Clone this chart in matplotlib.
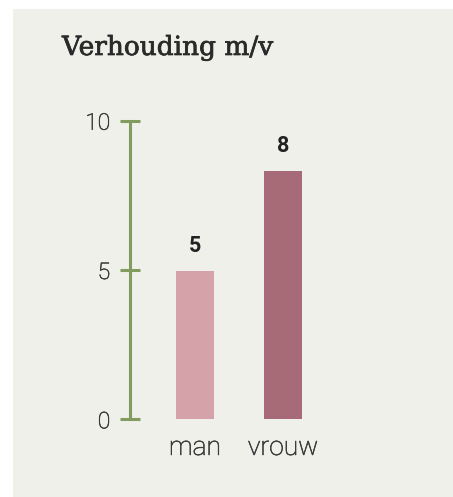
import matplotlib
matplotlib.use("Agg")
import matplotlib.pyplot as plt
from matplotlib.patches import Rectangle
import matplotlib.patheffects as pe

categories = ["man", "vrouw"]
values = [4.95, 8.3]
value_labels = ["5", "8"]
bar_colors = ["#d6a2aa", "#a66b77"]
yticks = [0, 5, 10]
title = "Verhouding m/v"

W, H = 453, 497
fig = plt.figure(figsize=(W / 100, H / 100), dpi=100, facecolor="white")

# panel background
fig.patches.append(Rectangle((13 / W, 0), 1, 1 - 9 / H, transform=fig.transFigure,
                             facecolor="#f0f0eb", edgecolor="none", zorder=-5))

green = "#829b5f"
ax_left, ax_right = 130, 350
y0_px, y10_px = 419.3, 120.7
ax = fig.add_axes([ax_left / W, (H - y0_px) / H, (ax_right - ax_left) / W, (y0_px - y10_px) / H])
ax.set_facecolor("none")
ax.set_zorder(2)
ax.set_ylim(0, 10)
unit = 88.0
x0 = -(195 - ax_left) / unit
ax.set_xlim(x0, x0 + (ax_right - ax_left) / unit)

xs = list(range(len(categories)))
ax.bar(xs, values, width=38 / unit, color=bar_colors, zorder=2)
for x, v, lab in zip(xs, values, value_labels):
    ax.annotate(lab, (x, v), xytext=(0, 13.7), textcoords="offset points",
                ha="center", va="baseline", fontsize=15.5, fontweight="bold",
                family="Roboto", color="#222222")

for s in ["top", "right", "bottom"]:
    ax.spines[s].set_visible(False)
ax.spines["left"].set_color(green)
ax.spines["left"].set_linewidth(2.2)
ax.spines["left"].set_capstyle("butt")

label_color = "#3a3a3a"
label_kw = dict(family="Roboto", fontweight="light", color=label_color)
stroke = [pe.withStroke(linewidth=0.4, foreground=label_color)]
ax.set_yticks(yticks)
ax.set_yticklabels([str(t) for t in yticks], fontsize=16.5, **label_kw)
ax.tick_params(axis="y", direction="inout", length=14.4, width=2.2, color=green, pad=7)

ax.set_xticks(xs)
ax.set_xticklabels(categories, fontsize=19, **label_kw)
ax.tick_params(axis="x", length=0, pad=12)
for t in ax.get_xticklabels() + ax.get_yticklabels():
    t.set_path_effects(stroke)

fig.text(62 / W, 1 - 55 / H, title, family="DejaVu Serif", fontsize=19,
         color="#2a2a2a", ha="left", va="baseline",
         path_effects=[pe.withStroke(linewidth=0.5, foreground="#2a2a2a")])

fig.savefig("out.png", dpi=100, facecolor="white")
